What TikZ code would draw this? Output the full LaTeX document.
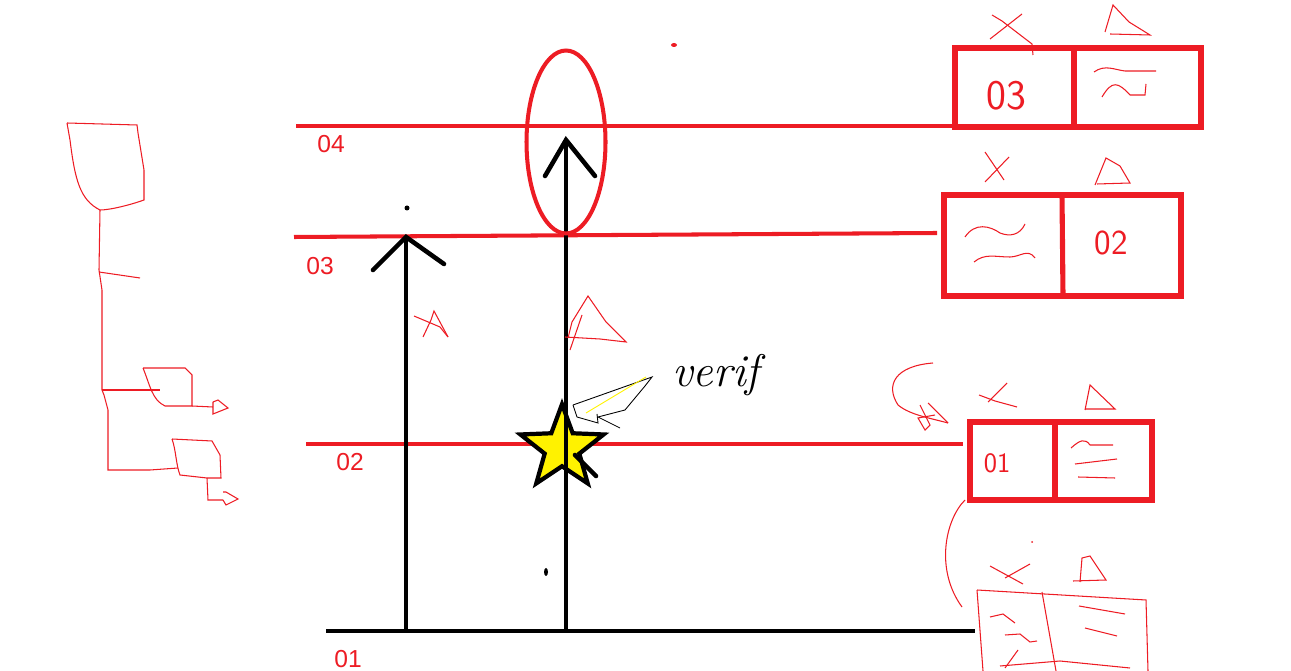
\documentclass[tikz,border=0pt]{standalone}
\usepackage{fontspec}
\newfontfamily\labelfont{Liberation Sans}
\usetikzlibrary{shapes.geometric,positioning}
\definecolor{paintred}{RGB}{237,28,36}
\definecolor{paintyellow}{RGB}{255,242,0}

\begin{document}
\begin{tikzpicture}[
  x=0.02cm,y=-0.02cm,
  level/.style={paintred,line width=2.3pt},
  axis/.style={black,line width=2.6pt,line cap=round},
  cell/.style={draw=paintred,line width=2.9pt},
  sketch/.style={paintred,line width=0.6pt},
  lvl/.style={text=paintred,font=\labelfont\fontsize{14}{14}\selectfont,anchor=north west,inner sep=0pt},
  hand/.style={text=paintred,font=\sffamily\fontsize{24}{24}\selectfont,inner sep=0pt}
]
  \useasboundingbox (0,0) rectangle (1291,671);

  % levels
  \coordinate (l4w) at (296,126); \coordinate (l4e) at (955,126);
  \coordinate (l3w) at (294,237); \coordinate (l3e) at (937,233);
  \coordinate (l2w) at (306,444); \coordinate (l2e) at (963,444);
  \coordinate (l1w) at (326,631); \coordinate (l1e) at (975,631);
  \draw[level] (l4w) -- (l4e);
  \draw[level] (l3w) -- (l3e);
  \draw[level] (l2w) -- (l2e);
  \draw[axis,line cap=butt] (l1w) -- (l1e);
  \node[lvl] (n04) at (317,135) {04};
  \node[lvl] (n03) at (306,257) {03};
  \node[lvl] (n02) at (336,453) {02};
  \node[lvl] (n01) at (334,650) {01};

  % boxes
  \draw[cell] (955,48) rectangle (1201,127); \draw[cell] (1074,48) -- (1074,127);
  \draw[cell] (944,195) rectangle (1181,296); \draw[cell] (1062,195) -- (1063,296);
  \draw[cell] (970,422) rectangle (1152,500); \draw[cell] (1055,422) -- (1055,500);
  \node[hand] (c3) at (1006,96) {03};
  \node[hand,font=\sffamily\fontsize{20}{20}\selectfont] (c2) at (1111,243) {02};
  \node[hand,font=\sffamily\fontsize{16}{16}\selectfont] (c1) at (997,463) {01};
  \draw[sketch] (1094,72) .. controls (1105,64) and (1115,70) .. (1125,71) -- (1156,71);
  \draw[sketch] (1102,97) .. controls (1112,80) and (1118,82) .. (1130,95) -- (1145,95) -- (1146,84);
  \draw[sketch] (965,237) .. controls (975,222) and (990,226) .. (1000,233) .. controls (1010,237) and (1020,235) .. (1025,224);
  \draw[sketch] (974,262) .. controls (985,253) and (995,257) .. (1010,257) .. controls (1020,257) and (1028,248) .. (1035,258);
  \draw[sketch] (1071,448) .. controls (1080,440) and (1085,438) .. (1090,445) -- (1113,445);
  \draw[sketch] (1075,464) -- (1117,459);
  \draw[sketch] (1078,477) -- (1115,478);

  % marks above boxes
  \draw[sketch] (992,15) -- (1002,21) -- (1032,44) -- (1033,55);
  \draw[sketch] (1022,14) -- (990,39);
  \draw[sketch] (1105,32) -- (1113,5) -- (1129,22) -- (1150,35) -- (1110,34);
  \draw[sketch] (985,152) -- (1004,180); \draw[sketch] (1009,157) -- (985,182);
  \draw[sketch] (1095,185) -- (1106,158) -- (1120,166) -- (1130,183) -- (1097,184);
  \draw[sketch] (979,395) -- (995,401) -- (1017,407); \draw[sketch] (1007,383) -- (988,402);
  \draw[sketch] (1085,410) -- (1090,385) -- (1115,409) -- (1085,409);
  \draw[sketch] (933,363) .. controls (895,366) and (885,385) .. (898,405) .. controls (910,415) and (930,418) .. (948,423);
  \draw[sketch] (920,405) -- (930,425) -- (925,430) -- (918,418) -- (935,415);
  \draw[sketch] (928,403) -- (948,423);

  % lower right sketch
  \draw[sketch] (965,500) .. controls (945,520) and (935,570) .. (962,607);
  \draw[sketch] (977,590) -- (1146,600) -- (1148,671);
  \draw[sketch] (977,590) -- (983,671);
  \draw[sketch] (1042,592) -- (1056,671);
  \draw[sketch] (1000,666) -- (1060,661) -- (1130,668);
  \draw[sketch] (990,617) -- (1003,614) -- (1015,623);
  \draw[sketch] (1005,635) -- (1020,634) -- (1030,642) -- (1037,641);
  \draw[sketch] (1018,650) -- (1005,668);
  \draw[sketch] (1079,606) -- (1125,614);
  \draw[sketch] (1085,628) -- (1117,636);
  \draw[sketch] (990,566) -- (1023,584); \draw[sketch] (1030,564) -- (1005,578);
  \draw[sketch] (1080,582) -- (1082,558) -- (1090,556) -- (1106,580) -- (1073,581);
  \fill[paintred] (1032,542) circle (1);

  % left sketch
  \draw[sketch] (67,123) -- (137,125) -- (138,133) -- (144,170) -- (144,200) .. controls (130,205) and (110,210) .. (100,210)
    .. controls (80,200) and (75,180) .. (70,140) -- (67,123);
  \draw[sketch] (100,210) -- (99,270) -- (102,290) -- (102,390) -- (104,395) -- (108,410) -- (108,470) -- (150,470) -- (178,468);
  \draw[sketch] (99,272) -- (140,278);
  \draw[sketch] (102,390) -- (160,390);
  \draw[sketch] (143,368) -- (185,368) -- (192,375) -- (192,406) -- (165,406) .. controls (152,400) and (150,385) .. (143,368);
  \draw[sketch] (192,406) -- (213,407);
  \draw[sketch] (213,402) -- (218,400) -- (228,408) -- (213,414) -- (213,402);
  \draw[sketch] (172,439) -- (212,441) -- (220,455) -- (221,478) -- (207,478) -- (180,475) .. controls (176,465) and (176,450) .. (172,439);
  \draw[sketch] (207,478) -- (208,500) -- (223,500);
  \draw[sketch] (223,492) -- (226,492) -- (238,499) -- (226,505) -- (223,500);

  % vertical arrows
  \coordinate (a1b) at (406,631); \coordinate (a1t) at (406,237);
  \coordinate (a2b) at (566,631); \coordinate (a2t) at (566,140);
  \draw[axis,line cap=butt] (a1b) -- (a1t);
  \draw[axis] (373,270) -- (a1t) -- (444,264);
  \node[star,star points=5,star point ratio=2.4,draw=black,fill=paintyellow,line width=2.4pt,minimum size=1.75cm,inner sep=0pt] (mark) at (562,448) {};
  \draw[axis] (575,455) -- (596,476);
  \draw[axis,line cap=butt] (a2b) -- (a2t);
  \draw[axis] (545,176) -- (a2t) -- (595,176);
  \node[ellipse,draw=paintred,line width=2.3pt,minimum width=1.58cm,minimum height=3.66cm,inner sep=0pt] (focus) at (566,142) {};

  % dots and notes
  \fill (407,208) circle (2.5);
  \fill (546,572) ellipse (2 and 4);
  \fill[paintred] (674,45) ellipse (3 and 2);
  \draw[sketch] (414,316) -- (440,327) -- (448,337);
  \draw[sketch] (423,337) -- (431,320) -- (434,311) -- (448,337);
  \draw[sketch] (568,338) -- (572,322) -- (588,296) -- (606,322) -- (626,342) -- (600,339) -- (565,337);
  \draw[sketch] (570,350) -- (582,315);
  \draw[black,line width=0.5pt] (573,405) -- (652,377) -- (645,386) -- (640,392) -- (625,410) -- (598,417) -- (620,428);
  \draw[black,line width=0.5pt] (573,405) -- (577,417) -- (598,423) -- (597,414);
  \draw[paintyellow,line width=0.5pt] (586,413) -- (646,377);
  \node[font=\itshape\fontsize{26}{26}\selectfont,inner sep=0pt] (verif) at (716,375) {verif};
\end{tikzpicture}
\end{document}
